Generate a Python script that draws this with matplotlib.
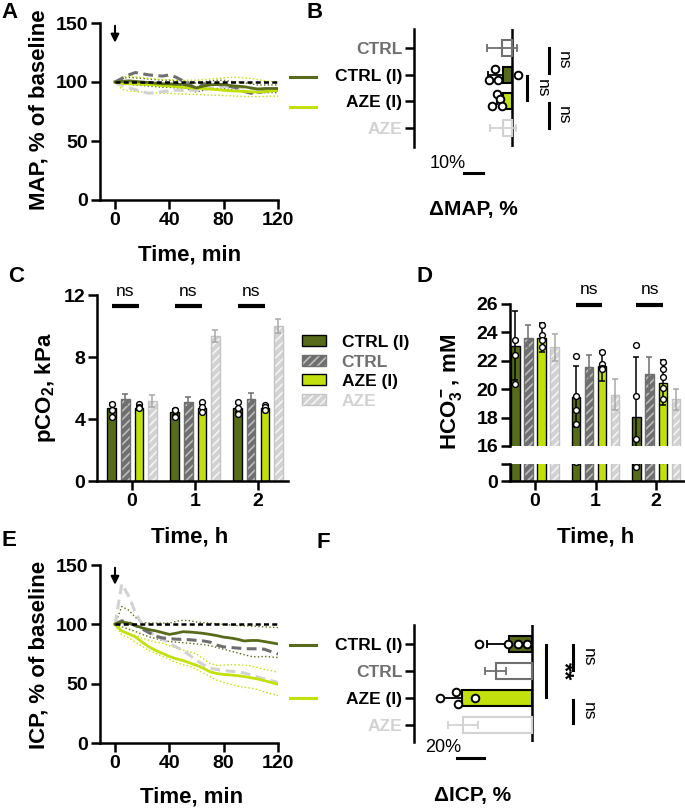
import matplotlib
matplotlib.use('Agg')
import matplotlib.pyplot as plt
from matplotlib.lines import Line2D
from matplotlib.patches import Patch

plt.rcParams['font.family'] = ['Liberation Sans', 'DejaVu Sans']
plt.rcParams['font.weight'] = 'bold'
plt.rcParams['mathtext.fontset'] = 'custom'
plt.rcParams['mathtext.rm'] = 'Liberation Sans:bold'
plt.rcParams['mathtext.bf'] = 'Liberation Sans:bold'
plt.rcParams['mathtext.it'] = 'Liberation Sans:bold'
plt.rcParams['hatch.linewidth'] = 1.2

# ---------------- colours ----------------
OLIVE = '#586b1b'
LIME = '#c2e00b'
GRAY = '#6f6f6f'
LGRAY = '#d2d2d2'

# ---------------- data ----------------
groups = ['CTRL (I)', 'CTRL', 'AZE (I)', 'AZE']
time_min = [0, 5, 10, 15, 20, 25, 30, 35, 40, 45, 50, 55, 60, 65, 70, 75, 80, 85, 90, 95, 100, 105, 110, 115, 120]

# Panel A: MAP, % of baseline
map_ctrl_i = [100, 100.5, 101, 100.5, 100, 99.5, 99, 98.5, 98.5, 98, 98, 96.8, 95, 96.5, 97.5, 98, 98, 97, 96.5, 96, 95, 94, 94.5, 94.5, 94.5]
map_ctrl = [100, 103, 106, 108, 107, 106, 105.5, 105, 106, 104, 101, 98, 94, 98.5, 98.5, 98, 97.5, 96, 95, 92, 90.5, 91, 92, 92.5, 93]
map_aze_i = [100, 99, 98.5, 98.3, 98, 98, 97.5, 97, 96.6, 96, 95.5, 95, 94.8, 94.5, 94, 93.5, 93, 92.5, 92.2, 92, 91.8, 91.5, 91.8, 92.3, 93]
map_aze = [100, 97, 95, 93.5, 91.5, 90.5, 91, 92, 92.5, 93, 93, 93, 93, 93.5, 94.5, 95, 96, 96, 95.5, 95, 94.6, 94.2, 94, 93.5, 93]
map_aze_i_hi = [100, 104, 105, 104.5, 104, 103, 102.5, 102, 102, 101.5, 101.5, 101.5, 101.5, 102, 102.5, 103, 103.5, 104, 104, 103.5, 103, 102, 101, 100.5, 100]
map_aze_i_lo = [100, 94, 92.5, 92, 91.5, 91, 90.8, 90.5, 90.4, 90, 89.8, 89.5, 89.5, 89.2, 89, 88.8, 88.5, 88.3, 88, 87.8, 87.6, 87.6, 87.8, 88, 88]
map_ctrl_i_hi = [100, 103, 104, 103.5, 103, 102.5, 102, 101.5, 101.5, 101, 101, 100, 99, 100, 101, 101.5, 101.5, 100.5, 100, 99.5, 98.5, 97.5, 97.5, 97.5, 97.5]
map_ctrl_i_lo = [100, 98, 98, 97.5, 97, 96.5, 96, 95.5, 95.5, 95, 95, 93.5, 91.5, 93, 94, 94.5, 94.5, 93.5, 93, 92.5, 91.5, 90.5, 91, 91, 91]

# Panel E: ICP, % of baseline
icp_ctrl_i = [100, 102, 101, 99, 97, 95.5, 94.5, 93, 91.5, 92.5, 93.8, 93.5, 93, 92.4, 91.5, 90.5, 89.2, 88.5, 87.5, 86, 86.4, 86.4, 85.5, 84.5, 83.5]
icp_ctrl = [100, 103, 101.5, 99, 96, 93, 90, 88.5, 88, 87.5, 87.3, 87, 86.5, 86, 85, 82.5, 81, 80.5, 80, 79.5, 79.4, 79.4, 79, 77, 75]
icp_aze_i = [100, 94.4, 92, 89.5, 85, 81, 78, 75.5, 73, 71, 69.5, 67.5, 65.5, 63, 60, 58.5, 57.8, 57.3, 56.8, 56, 55, 54, 52.5, 51, 49.5]
icp_aze = [100, 134, 124, 110, 100, 94.4, 90, 87.5, 84, 81, 78, 74, 69.5, 66, 63, 62, 61, 60.5, 60, 59, 57.5, 55.5, 54, 52.5, 51]
icp_ctrl_i_hi = [100, 115, 112, 106, 101.5, 101, 101, 101, 101, 102.5, 103.4, 103, 102, 101.4, 101, 100.5, 100, 99.5, 99, 98.8, 98.6, 98.2, 97.8, 97.5, 97.2]
icp_ctrl_i_lo = [100, 98, 96, 94, 91.5, 89.5, 88, 86.5, 85.5, 85, 84.5, 84, 83.5, 83, 82, 80.5, 79, 77.5, 76, 74.5, 73, 72.5, 73, 72.5, 72]
icp_aze_i_hi = [100, 95, 92.4, 90.5, 88.5, 86.5, 85, 84, 82, 80, 78.5, 77, 75, 71, 67, 65.5, 65.5, 66, 66, 65.5, 65, 63.5, 62, 61, 59.6]
icp_aze_i_lo = [100, 91, 88.7, 85, 81.5, 78, 75.5, 73, 70.5, 68, 66, 64.8, 62, 59, 56, 53, 51, 49.5, 48, 47, 46.3, 45, 43, 41.5, 40]

# Panel B: delta MAP, % (order: CTRL, CTRL (I), AZE (I), AZE)
b_labels = ['CTRL', 'CTRL (I)', 'AZE (I)', 'AZE']
b_mean = [-5.3, -4.7, -4.8, -4.7]
b_err = [7.9, 8.0, 3.0, 6.9]
b_pts_ctrl_i = [-8.9, -12.1, -7.4, 3.2]
b_pts_aze_i = [-7.9, -6.3, -10.5, -5.3]

# Panel F: delta ICP, % (order: CTRL (I), CTRL, AZE (I), AZE)
f_labels = ['CTRL (I)', 'CTRL', 'AZE (I)', 'AZE']
f_mean = [-17, -27, -52, -51]
f_err = [16, 8, 16, 11]
f_pts_ctrl_i = [-39, -18, -10, -4]
f_pts_aze_i = [-68, -56, -55, -42]

# Panel C: pCO2, kPa
hours = [0, 1, 2]
pco2_mean = {'CTRL (I)': [4.74, 4.46, 4.72], 'CTRL': [5.26, 5.09, 5.32],
             'AZE (I)': [4.74, 4.68, 4.72], 'AZE': [5.17, 9.35, 10.0]}
pco2_err = {'CTRL (I)': [0.3, 0.2, 0.3], 'CTRL': [0.34, 0.34, 0.37],
            'AZE (I)': [0.15, 0.3, 0.2], 'AZE': [0.4, 0.39, 0.43]}
pco2_pts = {'CTRL (I)': [[4.96, 4.57, 4.14], [4.6, 4.57, 4.14], [5.1, 4.68, 4.35]],
            'AZE (I)': [[4.96, 4.78, 4.7], [5.1, 4.78, 4.46], [4.9, 4.8, 4.57]]}

# Panel D: HCO3-, mM
hco3_mean = {'CTRL (I)': [23.07, 19.47, 18.07], 'CTRL': [23.63, 21.54, 21.05],
             'AZE (I)': [23.63, 21.63, 20.46], 'AZE': [22.95, 19.6, 19.29]}
hco3_err = {'CTRL (I)': [2.43, 2.13, 4.23], 'CTRL': [0.87, 0.87, 1.25],
            'AZE (I)': [1.0, 1.06, 1.6], 'AZE': [0.95, 1.1, 0.73]}
hco3_pts = {'CTRL (I)': [[23.46, 22.38, 20.37], [22.36, 19.5, 18.5, 17.55], [23.1, 19.55, 16.5, 13.0]],
            'AZE (I)': [[24.52, 23.8, 23.46, 23.0], [22.6, 21.8, 21.5, 21.4], [21.94, 21.4, 20.84, 20.06, 19.3]]}

# ---------------- figure helpers ----------------
W, H = 685, 809
fig = plt.figure(figsize=(W / 100, H / 100), dpi=100)


def add_ax(x0, x1, ytop, ybot):
    return fig.add_axes([x0 / W, 1 - ybot / H, (x1 - x0) / W, (ybot - ytop) / H])


def fx(x):
    return x / W


def fy(y):
    return 1 - y / H


SPW = 1.8
TICK_FS = 14


def style(ax):
    for s in ['top', 'right']:
        ax.spines[s].set_visible(False)
    for s in ['left', 'bottom']:
        ax.spines[s].set_linewidth(SPW)
    ax.tick_params(width=SPW, length=6.5, labelsize=TICK_FS, pad=2)


def label(x, y, s, fs=16, **kw):
    fig.text(fx(x), fy(y), s, fontsize=fs, ha='center', va='center', **kw)


# ---------------- time-course panels (A, E) ----------------
def timecourse(ax, ctrl_i, ctrl, aze_i, aze, ci_hi, ci_lo, ai_hi, ai_lo):
    style(ax)
    ax.set_xlim(-11.04, 120)
    ax.set_ylim(0, 150)
    ax.set_xticks([0, 40, 80, 120])
    ax.set_yticks([0, 50, 100, 150])
    ax.plot(time_min, ci_hi, ':', color=OLIVE, lw=1.0)
    ax.plot(time_min, ci_lo, ':', color=OLIVE, lw=1.0)
    ax.plot(time_min, ai_hi, ':', color=LIME, lw=1.0)
    ax.plot(time_min, ai_lo, ':', color=LIME, lw=1.0)
    ax.plot(time_min, aze, color=LGRAY, lw=2.2, dashes=(3.2, 1.8))
    ax.plot(time_min, ctrl, color=GRAY, lw=2.2, dashes=(3.2, 1.8))
    ax.plot(time_min, aze_i, color=LIME, lw=2.0)
    ax.plot(time_min, ctrl_i, color=OLIVE, lw=2.0)
    ax.plot([0, 120], [100, 100], color='black', lw=1.8, dashes=(2, 1.3))
    ax.annotate('', xy=(0, 131), xytext=(0, 150),
                arrowprops=dict(arrowstyle='-|>', color='black', lw=1.5, mutation_scale=12))


axA = add_ax(100, 278, 23, 200)
timecourse(axA, map_ctrl_i, map_ctrl, map_aze_i, map_aze,
           map_ctrl_i_hi, map_ctrl_i_lo, map_aze_i_hi, map_aze_i_lo)
axE = add_ax(100, 278, 565, 743)
timecourse(axE, icp_ctrl_i, icp_ctrl, icp_aze_i, icp_aze,
           icp_ctrl_i_hi, icp_ctrl_i_lo, icp_aze_i_hi, icp_aze_i_lo)

# legend keys of A and E (text shared with B / F tick labels)
for y, c in [(77, OLIVE), (107, LIME), (645, OLIVE), (698, LIME)]:
    fig.add_artist(Line2D([fx(290), fx(316)], [fy(y), fy(y)], color=c, lw=2.2))

label(39, 110, 'MAP, % of baseline', rotation=90)
label(190, 255, 'Time, min')
label(39, 655, 'ICP, % of baseline', rotation=90)
label(192, 797, 'Time, min')

# ---------------- horizontal bar panels (B, F) ----------------
BAR_STYLE = {'CTRL (I)': dict(color=OLIVE, edgecolor='black'),
             'CTRL': dict(color='white', edgecolor=GRAY),
             'AZE (I)': dict(color=LIME, edgecolor='black'),
             'AZE': dict(color='white', edgecolor=LGRAY)}
TXT_COL = {'CTRL (I)': 'black', 'CTRL': GRAY, 'AZE (I)': 'black', 'AZE': LGRAY}


def hbars(ax, labels, mean, err, pts, jit):
    for s in ['top', 'right', 'bottom']:
        ax.spines[s].set_visible(False)
    ax.spines['left'].set_linewidth(SPW)
    ax.set_xticks([])
    ax.set_yticks(range(len(labels)))
    ax.set_yticklabels(labels, fontsize=12.5)
    ax.tick_params(axis='y', width=SPW, length=6.5, pad=2)
    for t, lab in zip(ax.get_yticklabels(), labels):
        t.set_color(TXT_COL[lab])
    ax.axvline(0, color='black', lw=SPW)
    for i, lab in enumerate(labels):
        st = BAR_STYLE[lab]
        ax.barh(i, mean[i], height=0.6, lw=1.5, zorder=2, **st)
        if lab.endswith('(I)'):
            ax.errorbar(mean[i], i, xerr=[[err[i]], [0]], fmt='none', ecolor='black',
                        elinewidth=1.3, capsize=3, capthick=1.3, zorder=3)
            ax.plot(pts[lab], [i + j for j in jit[lab]], 'o', ms=5.5, mfc='white',
                    mec='black', mew=1.4, zorder=4, clip_on=False)
        else:
            ax.errorbar(mean[i], i, xerr=err[i], fmt='none', ecolor=st['edgecolor'],
                        elinewidth=1.3, capsize=3, capthick=1.3, zorder=3)


axB = add_ax(414, 575, 29, 147)
axB.set_xlim(-51.6, 33.2)
axB.set_ylim(3.71, -0.71)
hbars(axB, b_labels, b_mean, b_err,
      {'CTRL (I)': b_pts_ctrl_i, 'AZE (I)': b_pts_aze_i},
      {'CTRL (I)': [-0.22, 0.19, 0.19, 0.0], 'AZE (I)': [-0.26, -0.07, 0.19, 0.19]})
for x0, y0, y1, xt in [(19.5, 0.0, 0.94, 26.8), (7.9, 1.05, 1.95, 15.8), (19.5, 2.06, 3.0, 26.8)]:
    axB.plot([x0, x0], [y0, y1], color='black', lw=2.2, clip_on=False)
    axB.text(xt, (y0 + y1) / 2, 'ns', rotation=270, ha='center', va='center',
             fontsize=12.5, fontweight='normal')

axF = add_ax(414, 600, 625, 742)
axF.set_xlim(-87.4, 50.4)
axF.set_ylim(3.63, -0.70)
hbars(axF, f_labels, f_mean, f_err,
      {'CTRL (I)': f_pts_ctrl_i, 'AZE (I)': f_pts_aze_i},
      {'CTRL (I)': [0, 0, 0, 0], 'AZE (I)': [0, -0.22, 0.22, 0]})
axF.plot([10.4, 10.4], [0.04, 1.96], color='black', lw=2.2, clip_on=False)
axF.text(23, 1.0, '**', rotation=270, ha='center', va='center', fontsize=17)
for y0, y1 in [(0.04, 0.96), (2.07, 2.93)]:
    axF.plot([30.4, 30.4], [y0, y1], color='black', lw=2.2, clip_on=False)
    axF.text(41.5, (y0 + y1) / 2, 'ns', rotation=270, ha='center', va='center',
             fontsize=12.5, fontweight='normal')

# scale bars
fig.add_artist(Line2D([fx(464), fx(483)], [fy(173), fy(173)], color='black', lw=2.2))
fig.text(fx(466), fy(163), '10%', fontsize=13, fontweight='normal', ha='right', va='center')
fig.add_artist(Line2D([fx(457), fx(484)], [fy(758), fy(758)], color='black', lw=2.2))
fig.text(fx(461), fy(748), '20%', fontsize=13, fontweight='normal', ha='right', va='center')
label(473, 210, 'ΔMAP, %', fs=15)
label(473, 795, 'ΔICP, %', fs=15)

# ---------------- vertical grouped bars (C, D) ----------------
OFFS = [-0.325, -0.11, 0.11, 0.325]
BW = 0.14


def vbars(ax, means, errs, pts):
    for k, g in enumerate(groups):
        xs = [h + OFFS[k] for h in hours]
        if g == 'CTRL':
            ax.bar(xs, means[g], BW, color=GRAY, edgecolor='#bdbdbd', hatch='////', lw=0, zorder=2)
            ax.bar(xs, means[g], BW, fill=False, edgecolor=GRAY, lw=1.0, zorder=2)
            ax.errorbar(xs, means[g], yerr=errs[g], fmt='none', ecolor=GRAY,
                        elinewidth=1.1, capsize=2.5, capthick=1.1, zorder=3)
        elif g == 'AZE':
            ax.bar(xs, means[g], BW, color=LGRAY, edgecolor='#f4f4f4', hatch='////', lw=0, zorder=2)
            ax.bar(xs, means[g], BW, fill=False, edgecolor='#c4c4c4', lw=1.0, zorder=2)
            ax.errorbar(xs, means[g], yerr=errs[g], fmt='none', ecolor='#a8a8a8',
                        elinewidth=1.1, capsize=2.5, capthick=1.1, zorder=3)
        else:
            ax.bar(xs, means[g], BW, color=OLIVE if g == 'CTRL (I)' else LIME,
                   edgecolor='black', lw=1.0, zorder=2)
            ax.errorbar(xs, means[g], yerr=errs[g], fmt='none', ecolor='black',
                        elinewidth=1.1, capsize=2.5, capthick=1.1, zorder=3)
            for x, p in zip(xs, pts[g]):
                ax.plot([x] * len(p), p, 'o', ms=4.2, mfc='white', mec='black',
                        mew=1.0, zorder=4)


axC = add_ax(97, 288, 295, 481)
style(axC)
axC.set_xlim(-0.556, 2.476)
axC.set_ylim(0, 12)
axC.set_xticks(hours)
axC.set_yticks([0, 4, 8, 12])
vbars(axC, pco2_mean, pco2_err, pco2_pts)
for h in hours:
    axC.plot([h + OFFS[0], h + OFFS[2]], [11.3, 11.3], color='black', lw=3, solid_capstyle='butt')
    axC.text(h + (OFFS[0] + OFFS[2]) / 2, 12.25, 'ns', ha='center', va='center',
             fontsize=12.5, fontweight='normal')

hatch_ctrl = (Patch(facecolor=GRAY, edgecolor='#bdbdbd', hatch='////', lw=0),
              Patch(fill=False, edgecolor=GRAY, lw=1.0))
hatch_aze = (Patch(facecolor=LGRAY, edgecolor='#f4f4f4', hatch='////', lw=0),
             Patch(fill=False, edgecolor='#c4c4c4', lw=1.0))
leg = axC.legend([Patch(facecolor=OLIVE, edgecolor='black', lw=1.0), hatch_ctrl,
                  Patch(facecolor=LIME, edgecolor='black', lw=1.0), hatch_aze],
                 groups, loc='upper left', bbox_to_anchor=(fx(302), fy(335)),
                 bbox_transform=fig.transFigure, frameon=False, fontsize=12.5,
                 handlelength=1.38, handleheight=0.6, handletextpad=0.9,
                 labelspacing=0.26, borderaxespad=0, borderpad=0)
for t, g in zip(leg.get_texts(), groups):
    t.set_color(TXT_COL[g])

label(45, 388, 'pCO$_2$, kPa', rotation=90)
label(190, 537, 'Time, h')

# D: broken axis
axDt = add_ax(510, 684, 304, 446)
axDb = add_ax(510, 684, 464, 481)
for ax in (axDt, axDb):
    style(ax)
    ax.set_xlim(-0.413, 2.46)
    vbars(ax, hco3_mean, hco3_err, hco3_pts)
axDt.set_ylim(16, 26)
axDt.set_yticks([16, 18, 20, 22, 24, 26])
axDt.spines['bottom'].set_visible(False)
axDt.tick_params(axis='x', bottom=False, labelbottom=False)
axDb.set_ylim(0, 16)
axDb.set_yticks([0, 16])
axDb.set_yticklabels(['0', ''])
axDb.set_xticks(hours)
for h in hours[1:]:
    axDt.plot([h + OFFS[0], h + OFFS[2]], [25.93, 25.93], color='black', lw=3,
              solid_capstyle='butt', clip_on=False)
    axDt.text(h + (OFFS[0] + OFFS[2]) / 2, 27.0, 'ns', ha='center', va='center',
              fontsize=12.5, fontweight='normal')

label(452, 392, 'HCO$_3^-$, mM', rotation=90)
label(596, 537, 'Time, h')

# ---------------- panel letters ----------------
for s, x, y in [('A', 9, 12), ('B', 315, 12), ('C', 16, 276), ('D', 424, 277),
                ('E', 9, 540), ('F', 323, 543)]:
    label(x, y, s, fs=16)

fig.savefig('out.png', dpi=100)
